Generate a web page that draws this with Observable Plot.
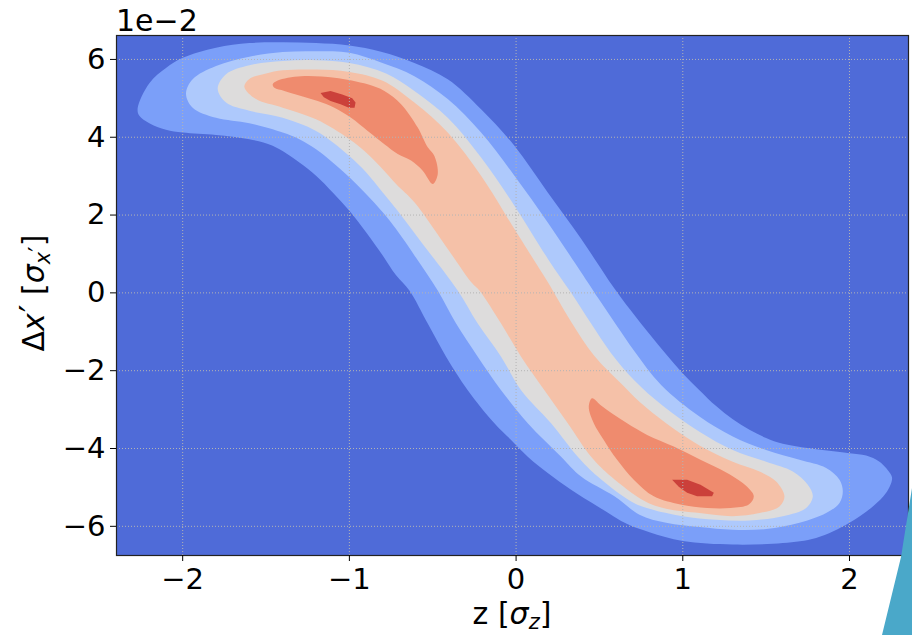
<!DOCTYPE html>
<html>
<head>
<meta charset="utf-8">
<script src="https://cdn.jsdelivr.net/npm/d3@7"></script>
<script src="https://cdn.jsdelivr.net/npm/@observablehq/plot@0.6"></script>
<style>
html, body { margin: 0; padding: 0; background: #fff; }
#wrap { position: relative; width: 912px; height: 635px; overflow: hidden; font-family: "DejaVu Sans", sans-serif; }
#deco { position: absolute; left: 0; top: 0; pointer-events: none; }
</style>
</head>
<body>
<div id="wrap"></div>
<script>
// Axis ticks (x in sigma_z, y in units of 1e-2 sigma_x')
const xTicks = [-2, -1, 0, 1, 2];
const yTicks = [-6, -4, -2, 0, 2, 4, 6];

// Filled contour band colours (coolwarm), lowest band first
const bandColors = ["#4f6bd8", "#7b9ff9", "#aec9fc", "#dddcdc", "#f5c1a8", "#ef8b6e", "#cb403a"];

// Contour level 1 (outermost)
const l1X = [-2.27, -2.20, -2.10, -2.00, -1.80, -1.60, -1.40, -1.20, -1.00, -0.81, -0.61, -0.41, -0.21, -0.01, 0.19, 0.39, 0.59, 0.70, 0.80, 0.90, 1.00, 1.10, 1.20, 1.30, 1.40, 1.50, 1.60, 1.80, 2.00, 2.10, 2.18, 2.25, 2.255, 2.22, 2.14, 2.00, 1.80, 1.60, 1.30, 1.00, 0.80, 0.67, 0.49, 0.33, 0.19, 0.07, -0.03, -0.13, -0.29, -0.42, -0.53, -0.64, -0.72, -0.80, -0.90, -1.00, -1.10, -1.20, -1.30, -1.46, -1.60, -1.80, -2.00, -2.10, -2.20, -2.26];
const l1Y = [4.75, 5.39, 5.78, 6.04, 6.30, 6.42, 6.44, 6.42, 6.36, 6.20, 5.91, 5.49, 4.72, 3.78, 2.58, 1.39, 0.11, -0.52, -1.06, -1.58, -2.07, -2.50, -2.91, -3.25, -3.52, -3.73, -3.88, -4.02, -4.12, -4.18, -4.34, -4.68, -4.80, -5.14, -5.49, -5.91, -6.30, -6.43, -6.47, -6.38, -6.15, -5.95, -5.49, -5.06, -4.63, -4.21, -3.78, -3.35, -2.50, -1.64, -0.79, 0.06, 0.45, 0.96, 1.56, 2.11, 2.58, 3.01, 3.35, 3.78, 3.95, 4.06, 4.12, 4.19, 4.36, 4.55];

// Contour level 2
const l2X = [-1.98, -1.94, -1.80, -1.60, -1.40, -1.20, -1.00, -0.81, -0.61, -0.41, -0.21, -0.01, 0.19, 0.39, 0.49, 0.60, 0.71, 0.87, 1.10, 1.30, 1.50, 1.70, 1.86, 1.94, 1.96, 1.94, 1.86, 1.70, 1.50, 1.30, 1.10, 0.90, 0.74, 0.59, 0.39, 0.27, 0.07, -0.09, -0.23, -0.36, -0.47, -0.60, -0.72, -0.80, -0.90, -1.00, -1.10, -1.20, -1.30, -1.40, -1.60, -1.80, -1.94];
const l2Y = [5.12, 5.49, 5.83, 6.07, 6.19, 6.21, 6.17, 5.92, 5.57, 4.98, 4.12, 3.01, 1.81, 0.53, -0.12, -0.82, -1.50, -2.37, -3.18, -3.69, -4.04, -4.29, -4.50, -4.80, -5.10, -5.40, -5.66, -5.91, -6.07, -6.09, -6.02, -5.91, -5.70, -5.23, -4.72, -4.21, -3.35, -2.50, -1.64, -0.79, 0.06, 0.90, 1.64, 2.07, 2.54, 2.97, 3.35, 3.69, 3.95, 4.12, 4.36, 4.50, 4.76];

// Contour level 3
const l3X = [-1.79, -1.74, -1.60, -1.40, -1.20, -1.00, -0.78, -0.61, -0.41, -0.21, -0.01, 0.19, 0.33, 0.45, 0.57, 0.71, 0.88, 1.10, 1.30, 1.50, 1.66, 1.75, 1.78, 1.74, 1.60, 1.40, 1.20, 1.00, 0.80, 0.69, 0.49, 0.37, 0.21, 0.03, -0.09, -0.23, -0.35, -0.55, -0.72, -0.80, -0.90, -1.00, -1.20, -1.40, -1.60, -1.74];
const l3Y = [5.25, 5.62, 5.85, 5.96, 5.98, 5.91, 5.64, 5.19, 4.50, 3.48, 2.24, 0.88, 0.00, -0.79, -1.55, -2.25, -2.90, -3.57, -4.04, -4.34, -4.59, -4.93, -5.23, -5.53, -5.74, -5.85, -5.83, -5.74, -5.55, -5.36, -4.72, -4.21, -3.35, -2.50, -1.64, -0.79, 0.06, 1.20, 2.16, 2.58, 3.10, 3.52, 4.16, 4.50, 4.68, 4.89];

// Contour level 4
const l4X = [-1.63, -1.60, -1.50, -1.40, -1.20, -1.00, -0.80, -0.61, -0.41, -0.21, -0.01, 0.09, 0.19, 0.33, 0.47, 0.63, 0.74, 0.90, 1.10, 1.30, 1.46, 1.56, 1.61, 1.58, 1.46, 1.30, 1.10, 0.90, 0.77, 0.57, 0.45, 0.31, 0.17, 0.03, -0.09, -0.22, -0.27, -0.41, -0.61, -0.72, -0.80, -0.90, -1.00, -1.20, -1.40, -1.56];
const l4Y = [5.30, 5.50, 5.64, 5.72, 5.74, 5.68, 5.45, 4.89, 4.12, 3.01, 1.64, 0.96, 0.28, -0.74, -1.62, -2.33, -2.80, -3.35, -3.92, -4.34, -4.59, -4.85, -5.23, -5.49, -5.66, -5.74, -5.66, -5.55, -5.35, -4.72, -4.21, -3.35, -2.50, -1.64, -0.79, 0.06, 0.28, 1.13, 2.33, 2.80, 3.18, 3.61, 3.95, 4.46, 4.76, 4.98];

// Contour level 5: upper-left and lower-right islands
const l5aX = [-1.46, -1.43, -1.29, -1.09, -0.89, -0.79, -0.69, -0.59, -0.53, -0.49, -0.47, -0.50, -0.56, -0.63, -0.71, -0.79, -0.89, -0.99, -1.09, -1.19, -1.29, -1.39, -1.45];
const l5aY = [5.36, 5.46, 5.57, 5.53, 5.36, 5.19, 4.85, 4.25, 3.74, 3.52, 3.05, 2.80, 3.14, 3.40, 3.57, 3.82, 4.16, 4.50, 4.76, 4.93, 5.06, 5.19, 5.27];
const l5bX = [0.456, 0.506, 0.576, 0.666, 0.786, 0.946, 1.106, 1.266, 1.386, 1.426, 1.396, 1.286, 1.146, 0.986, 0.826, 0.706, 0.606, 0.526, 0.466, 0.436];
const l5bY = [-2.71, -2.88, -3.10, -3.35, -3.65, -3.95, -4.29, -4.63, -4.98, -5.23, -5.44, -5.53, -5.53, -5.44, -5.23, -4.80, -4.29, -3.78, -3.35, -2.93];

// Contour level 6: the two small peaks
const l6aX = [-1.173, -1.113, -1.043, -0.983, -0.963, -0.969, -1.003, -1.053, -1.113, -1.153];
const l6aY = [5.14, 5.19, 5.10, 5.00, 4.89, 4.76, 4.76, 4.85, 4.93, 5.03];
const l6bX = [0.936, 1.026, 1.106, 1.186, 1.176, 1.086, 1.026, 0.976];
const l6bY = [-4.80, -4.80, -4.93, -5.14, -5.23, -5.23, -5.14, -4.98];

const fmt = d => d < 0 ? "\u2212" + Math.abs(d) : String(d);
const pts = (xs, ys) => xs.map((x, i) => ({x, y: ys[i]}));

const regions = [
  {x: l1X, y: l1Y, band: 1, curve: "catmull-rom-closed"},
  {x: l2X, y: l2Y, band: 2, curve: "catmull-rom-closed"},
  {x: l3X, y: l3Y, band: 3, curve: "catmull-rom-closed"},
  {x: l4X, y: l4Y, band: 4, curve: "catmull-rom-closed"},
  {x: l5aX, y: l5aY, band: 5, curve: "catmull-rom-closed"},
  {x: l5bX, y: l5bY, band: 5, curve: "catmull-rom-closed"},
  {x: l6aX, y: l6aY, band: 6, curve: "linear-closed"},
  {x: l6bX, y: l6bY, band: 6, curve: "linear-closed"}
];

const gridStyle = {stroke: "#b4b4b4", strokeOpacity: 1, strokeWidth: 1, strokeDasharray: "1,2"};

const chart = Plot.plot({
  width: 912,
  height: 635,
  marginLeft: 116,
  marginRight: 4,
  marginTop: 35,
  marginBottom: 80,
  x: {domain: [-2.397, 2.354]},
  y: {domain: [-6.75, 6.615]},
  style: {fontFamily: "DejaVu Sans, sans-serif", color: "black", background: "white", overflow: "visible"},
  marks: [
    Plot.frame({fill: bandColors[0]}),
    ...regions.map(r => Plot.line(pts(r.x, r.y), {x: "x", y: "y", fill: bandColors[r.band], stroke: "none", curve: r.curve})),
    Plot.gridX(xTicks, gridStyle),
    Plot.gridY(yTicks, gridStyle),
    Plot.frame({stroke: "#222", strokeWidth: 1.2}),
    Plot.axisX(xTicks, {tickSize: 6, tickPadding: 7, fontSize: 29, tickFormat: fmt, label: null}),
    Plot.axisY(yTicks, {tickSize: 6, tickPadding: 5, fontSize: 29, tickFormat: fmt, label: null})
  ]
});

document.getElementById("wrap").appendChild(chart);

const svg = d3.select(chart);
// offset text
svg.append("text").attr("x", 116).attr("y", 31).attr("text-anchor", "start").attr("font-size", 30).attr("fill", "black").text("1e\u22122");

// x label: z [σ_z]
const xl = svg.append("text").attr("x", 512).attr("y", 624).attr("text-anchor", "middle").attr("font-size", 30).attr("fill", "black");
xl.append("tspan").text("z [");
xl.append("tspan").attr("font-style", "italic").text("\u03c3");
xl.append("tspan").attr("font-style", "italic").attr("font-size", 21).attr("dy", 5).text("z");
xl.append("tspan").attr("dy", -5).text("]");

// y label: Δx′ [σ_x′]
const yl = svg.append("text").attr("transform", "translate(44,293) rotate(-90)").attr("text-anchor", "middle").attr("font-size", 30).attr("fill", "black");
yl.append("tspan").text("\u0394");
yl.append("tspan").attr("font-style", "italic").text("x");
yl.append("tspan").attr("font-size", 34).attr("dx", 1).text("\u2032");
yl.append("tspan").text(" [");
yl.append("tspan").attr("font-style", "italic").text("\u03c3");
yl.append("tspan").attr("font-style", "italic").attr("font-size", 21).attr("dy", 6).text("x");
yl.append("tspan").attr("font-size", 24).attr("dy", -4).text("\u2032");
yl.append("tspan").attr("dy", -2).text("]");

// decorative corner shape visible in the reference picture
const deco = d3.select("#wrap").append("svg").attr("id", "deco").attr("width", 912).attr("height", 635);
deco.append("polygon").attr("points", "912,488 912,635 882,635 901,557").attr("fill", "#4aa8c9");
</script>
</body>
</html>
